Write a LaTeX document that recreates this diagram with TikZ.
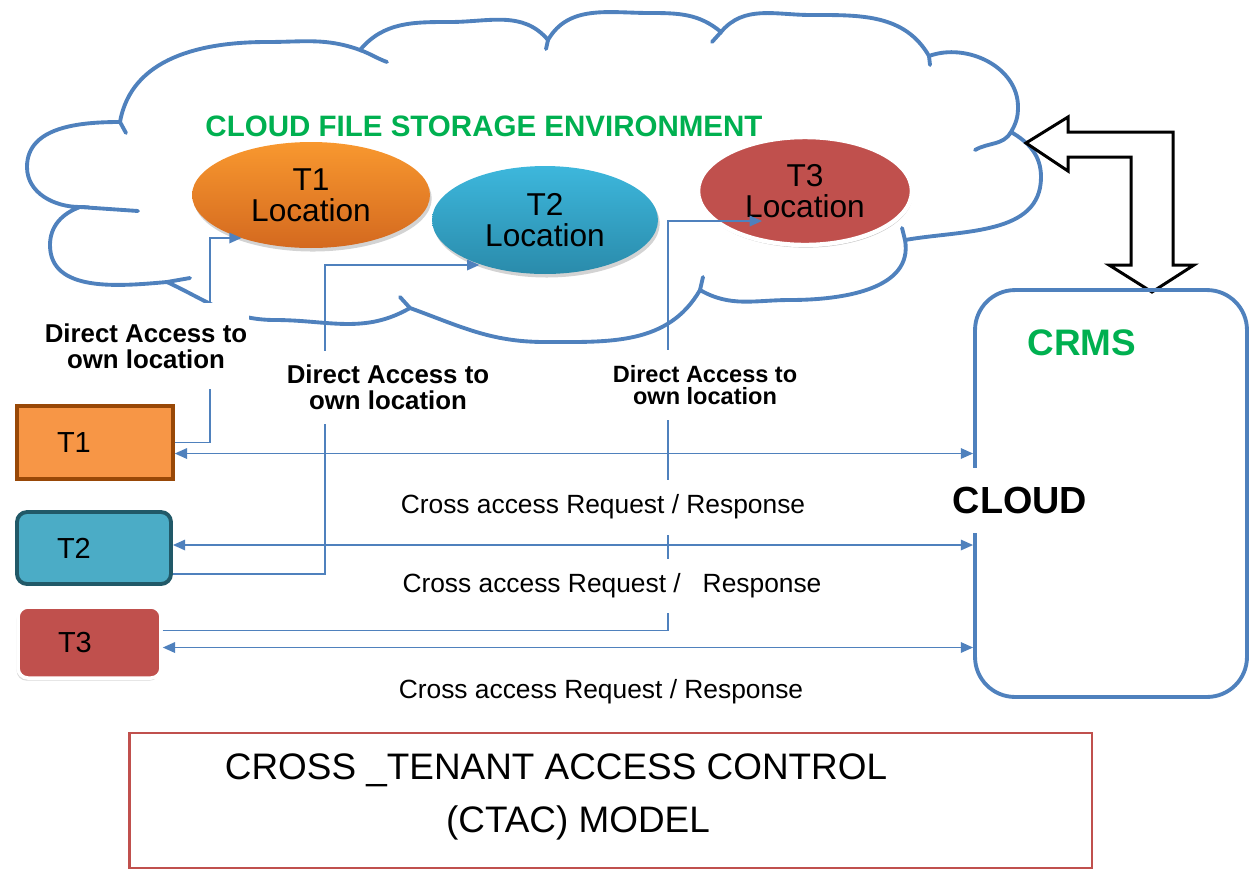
\documentclass[tikz,border=0pt]{standalone}
\usepackage{fontspec}
\setmainfont{Liberation Sans}
\usetikzlibrary{arrows.meta,positioning,calc,shapes.geometric,shadows}
\definecolor{cloudblue}{HTML}{4F81BD}
\definecolor{envgreen}{HTML}{00B050}
\definecolor{onetop}{HTML}{F8982F}
\definecolor{onebot}{HTML}{D4691F}
\definecolor{onefill}{HTML}{F79646}
\definecolor{oneedge}{HTML}{984807}
\definecolor{twotop}{HTML}{3DB7DC}
\definecolor{twobot}{HTML}{2A8BAB}
\definecolor{twofill}{HTML}{4BACC6}
\definecolor{twoedge}{HTML}{215968}
\definecolor{threefill}{HTML}{C0504D}
\definecolor{ctacred}{HTML}{C0504D}

\begin{document}
\begin{tikzpicture}[x=0.02cm,y=0.02cm,
  cloudline/.style={draw=cloudblue,line width=2.2pt,line cap=round},
  dirlink/.style={draw=cloudblue,line width=0.9pt},
  arr/.style={-{Triangle[length=7pt,width=6pt]}},
  twoway/.style={dirlink,{Triangle[length=7pt,width=6pt]}-{Triangle[length=7pt,width=6pt]}},
  locell/.style={ellipse,inner sep=0pt,align=center,font=\fontsize{18}{17.5}\selectfont},
  tenantbox/.style={rectangle,inner xsep=0.8cm,inner ysep=0pt,align=left,font=\fontsize{16.5}{16.5}\selectfont},
  lbl/.style={fill=white,align=center,inner xsep=1pt,inner ysep=0pt,font=\bfseries\fontsize{14.7}{14.7}\selectfont},
  reqlbl/.style={fill=white,inner xsep=1pt,inner ysep=0pt,font=\fontsize{15}{15}\selectfont}]
\useasboundingbox (0,0) rectangle (1250,-870);

% cloud outline
\draw[cloudline] (80,-207) to[out=180,in=-90] (27,-167) to[out=90,in=180] (120,-122)
  to[out=80,in=180] (267,-42) to[out=0,in=160] (360,-50)
  to[out=50,in=180] (450,-22) to[out=0,in=130] (548,-40)
  to[out=60,in=180] (650,-13) to[out=0,in=140] (721,-32)
  to[out=50,in=180] (811,-15) to[out=0,in=120] (929,-56)
  to[out=20,in=90] (1018,-107) to[out=-90,in=60] (1011,-132)
  to[out=-30,in=90] (1041,-177) to[out=-90,in=10] (905,-240)
  to[out=-80,in=0] (790,-300) to[out=180,in=-30] (700,-290)
  to[out=-120,in=0] (545,-342) to[out=180,in=-20] (410,-308)
  to[out=-150,in=0] (275,-320) to[out=180,in=-25] (167,-282)
  to[out=185,in=-90] (50,-245) to[out=90,in=200] (80,-207) -- cycle;
\draw[cloudline] (80,-207) -- (138,-211) (120,-122) -- (126,-133)
  (360,-50) to[out=-20,in=160] (387,-62) (548,-40) -- (546,-49)
  (721,-32) -- (712,-42) (929,-56) -- (930,-65)
  (1011,-132) to[out=-120,in=30] (975,-150) (905,-240) -- (902,-228)
  (700,-290) -- (703,-277) (410,-308) -- (400,-297) (167,-282) -- (190,-278);

\node[font=\bfseries\fontsize{16.8}{17}\selectfont,text=envgreen] (envlbl) at (484,-126) {CLOUD FILE STORAGE ENVIRONMENT};

% tenant locations
\node[locell,minimum width=4.76cm,minimum height=2.12cm,top color=onetop,bottom color=onebot,
  drop shadow={shadow xshift=1pt,shadow yshift=-2pt,opacity=.35}] (loc1) at (311,-195) {T1\\Location};
\node[locell,minimum width=4.52cm,minimum height=2.16cm,top color=twotop,bottom color=twobot,
  drop shadow={shadow xshift=1pt,shadow yshift=-2pt,opacity=.35}] (loc2) at (545,-220) {T2\\Location};
\node[locell,minimum width=4.28cm,minimum height=2.16cm,fill=threefill,draw=white,line width=2.5pt,
  drop shadow={shadow xshift=.5pt,shadow yshift=-1.5pt,opacity=.45}] (loc3) at (805,-191) {T3\\Location};

% tenants
\node[tenantbox,fill=onefill,draw=oneedge,line width=2pt,text width=1.52cm,minimum height=1.46cm] (t1box) at (95,-442.5) {T1};
\node[tenantbox,fill=twofill,draw=twoedge,line width=2.2pt,rounded corners=0.2cm,text width=1.48cm,minimum height=1.44cm] (t2box) at (94,-548) {T2};
\node[tenantbox,fill=threefill,draw=white,line width=2pt,rounded corners=0.2cm,text width=1.26cm,minimum height=1.42cm,
  drop shadow={shadow xshift=-.8pt,shadow yshift=-1.5pt,opacity=.3}] (t3box) at (89.5,-642.5) {T3};

% CRMS
\draw[line width=1.7pt,fill=white,line join=miter] (1026,-143) -- (1068,-117) -- (1068,-132) -- (1173,-132)
  -- (1173,-265) -- (1194,-265) -- (1152,-292) -- (1109,-265) -- (1131,-265) -- (1131,-157)
  -- (1068,-157) -- (1068,-171) -- cycle;
\node[draw=cloudblue,line width=2.2pt,rounded corners=0.8cm,minimum width=5.44cm,minimum height=8.14cm] (crms) at (1111,-493.5) {};
\node[font=\bfseries\fontsize{21}{21}\selectfont,text=envgreen] (crmslbl) at (1082,-343) {CRMS};

% direct access
\coordinate (k1) at (210,-238);
\coordinate (k2) at (325,-265);
\coordinate (k3) at (668,-221);
\coordinate (p3) at (762,-221);
\draw[dirlink,arr] (t1box.east) -| (k1) -- (k1 -| loc1.212);
\draw[dirlink,arr] ($(t2box.east)+(0,-26)$) -| (k2) -- (k2 -| loc2.214);
\draw[dirlink,arr] ($(t3box.east)+(0,12)$) -| (k3) -- (p3);

% cross access
\coordinate (r1) at ($(t1box.east)+(0,-11)$);
\coordinate (r2) at ($(t2box.east)+(0,3)$);
\coordinate (r3) at ($(t3box.east)+(0,-5)$);
\draw[twoway] (r1) -- (r1 -| crms.west);
\draw[twoway] (r2) -- (r2 -| crms.west);
\draw[twoway] (r3) -- (r3 -| crms.west);

\node[fill=white,inner xsep=4pt,minimum height=1.3cm,font=\bfseries\fontsize{21.5}{21.5}\selectfont] (cloudlbl) at (1020,-500) {CLOUD};

\node[lbl,minimum height=1.72cm] (acc1) at (146,-346) {Direct Access to\\own location};
\node[lbl,minimum height=1.46cm] (acc2) at (388,-387) {Direct Access to\\own location};
\node[lbl,minimum height=1.4cm,font=\bfseries\fontsize{13.4}{12.5}\selectfont] (acc3) at (705,-385) {Direct Access to\\own location};
\node[reqlbl,minimum height=1.1cm] (req1) at (603,-507) {Cross access Request / Response};
\node[reqlbl,minimum height=1.08cm] (req2) at (612,-586) {Cross access Request /\ \ \ Response};
\node[reqlbl] (req3) at (601,-692) {Cross access Request / Response};

% model title
\node[draw=ctacred,line width=1.6pt,minimum width=19.26cm,minimum height=2.7cm] (ctacbox) at (610.5,-800.5) {};
\node[align=center,font=\fontsize{21}{30.6}\selectfont] (ctac) at (556,-797) {CROSS \_TENANT ACCESS CONTROL\\\hspace*{0.88cm}(CTAC) MODEL};
\end{tikzpicture}
\end{document}
